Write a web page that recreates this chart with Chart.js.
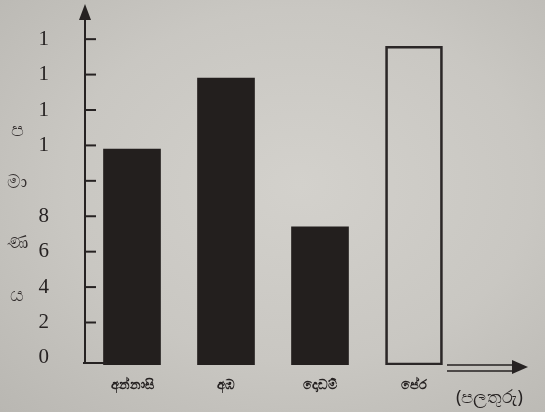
<!DOCTYPE html>
<html>
<head>
<meta charset="utf-8">
<script src="https://cdn.jsdelivr.net/npm/chart.js@4.4.0/dist/chart.umd.min.js"></script>
<style>
  html, body { margin: 0; padding: 0; }
  body {
    width: 545px; height: 412px; overflow: hidden;
    background: radial-gradient(ellipse at 55% 45%, #d3d1cc 0%, #c9c7c2 55%, #b9b7b2 100%);
  }
  #wrap { position: relative; width: 545px; height: 412px; }
</style>
</head>
<body>
<div id="wrap"><canvas id="fruitChart" width="545" height="412"></canvas></div>
<script>
const fruits = ['අන්නාසි', 'අඹ', 'දොඩම්', 'පේර'];
const amounts = [11.8, 15.8, 7.4, 17.6];
const tickValues = [0, 2, 4, 6, 8, 10, 12, 14, 16, 18];
// the photo only shows the first digit of the upper labels
const tickLabels = ['0', '2', '4', '6', '8', '', '1', '1', '1', '1'];
const yTitle = ['ප', 'මා', 'ණ', 'ය'];
const xTitle = '(පලතුරු)';

const ink = '#262222';

// axis arrows, inner tick marks and the hand-placed titles
const decor = {
  id: 'decor',
  afterDatasetsDraw(chart) {
    const { ctx, chartArea, scales } = chart;
    const y = scales.y;
    const x0 = chartArea.left;
    const yBase = chartArea.bottom - 2;
    ctx.save();
    ctx.strokeStyle = ink;
    ctx.fillStyle = ink;

    // y axis line with arrow
    ctx.lineWidth = 2;
    ctx.beginPath();
    ctx.moveTo(x0, yBase);
    ctx.lineTo(x0, 14);
    ctx.moveTo(x0 - 2, yBase);
    ctx.lineTo(x0 + 22, yBase);
    ctx.stroke();
    ctx.beginPath();
    ctx.moveTo(x0, 4);
    ctx.lineTo(x0 - 6, 20);
    ctx.lineTo(x0 + 6, 20);
    ctx.closePath();
    ctx.fill();

    // tick marks pointing inward
    tickValues.slice(1).forEach(v => {
      const py = y.getPixelForValue(v);
      ctx.beginPath();
      ctx.moveTo(x0, py);
      ctx.lineTo(x0 + 11, py);
      ctx.stroke();
    });

    // x axis double arrow
    ctx.lineWidth = 1.6;
    ctx.beginPath();
    ctx.moveTo(447, 365);
    ctx.lineTo(516, 365);
    ctx.moveTo(447, 371);
    ctx.lineTo(516, 371);
    ctx.stroke();
    ctx.beginPath();
    ctx.moveTo(528, 367);
    ctx.lineTo(512, 360);
    ctx.lineTo(512, 374);
    ctx.closePath();
    ctx.fill();

    // vertical y title
    ctx.font = '19px "Noto Sans", sans-serif';
    ctx.textAlign = 'center';
    ctx.textBaseline = 'middle';
    ctx.fillStyle = '#332e2e';
    const ty = [131, 183, 243, 296];
    yTitle.forEach((t, i) => ctx.fillText(t, 17, ty[i]));

    // x title
    ctx.fillStyle = ink;
    ctx.font = '18px "Noto Sans", sans-serif';
    ctx.textAlign = 'left';
    ctx.fillText(xTitle, 456, 398);
    ctx.restore();
  }
};

new Chart(document.getElementById('fruitChart'), {
  type: 'bar',
  data: {
    labels: fruits,
    datasets: [{
      data: amounts,
      base: -0.4,
      backgroundColor: ['#231f1e', '#231f1e', '#231f1e', 'rgba(0,0,0,0)'],
      borderColor: ['#231f1e', '#231f1e', '#231f1e', '#2b2727'],
      borderWidth: [0, 0, 0, 2],
      borderSkipped: false,
      barThickness: 57
    }]
  },
  options: {
    responsive: false,
    animation: false,
    layout: { padding: { top: 10, right: 84, left: 0, bottom: 0 } },
    plugins: { legend: { display: false }, tooltip: { enabled: false } },
    scales: {
      x: {
        grid: { display: false },
        border: { display: false },
        ticks: {
          color: ink,
          padding: 4,
          font: { family: '"Noto Sans", sans-serif', size: 13, weight: 'bold' }
        },
        afterFit(scale) { scale.height = 47; }
      },
      y: {
        min: -0.4,
        max: 19.5,
        // invisible tick marks push the labels left without adding top padding
        grid: { display: true, drawOnChartArea: false, drawTicks: true, tickLength: 36, color: 'rgba(0,0,0,0)' },
        border: { display: false },
        afterBuildTicks(scale) { scale.ticks = tickValues.map(v => ({ value: v })); },
        ticks: {
          color: ink,
          padding: 0,
          font: { family: '"Liberation Serif", serif', size: 21 },
          callback: (v, i) => tickLabels[i]
        },
        afterFit(scale) { scale.width = 85; }
      }
    }
  },
  plugins: [decor]
});
</script>
</body>
</html>
